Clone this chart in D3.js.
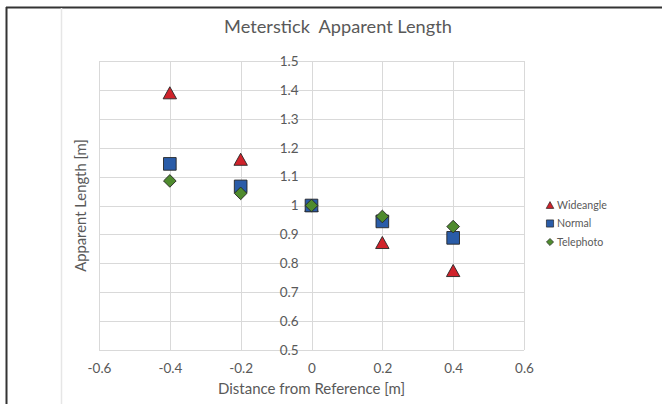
<!DOCTYPE html>
<html>
<head>
<meta charset="utf-8">
<script src="https://cdn.jsdelivr.net/npm/d3@7"></script>
<style>
  body { margin: 0; background: #fff; }
  text { font-family: Lato, sans-serif; fill: #595959; }
</style>
</head>
<body>
<div id="chart"></div>
<script>
// scatter of apparent meterstick length vs distance

const width = 662,
    height = 404,
    margin = ({ top: 61, right: 138, bottom: 54, left: 99 });

const distance = [-0.4, -0.2, 0, 0.2, 0.4];
const wideangle = [1.39, 1.16, 1.0, 0.872, 0.775];
const normal = [1.144, 1.066, 1.0, 0.945, 0.888];
const telephoto = [1.085, 1.042, 1.0, 0.962, 0.927];
const xTicks = [-0.6, -0.4, -0.2, 0, 0.2, 0.4, 0.6];
const yTicks = [0.5, 0.6, 0.7, 0.8, 0.9, 1, 1.1, 1.2, 1.3, 1.4, 1.5];

// diamond = square turned 45 degrees
const squareDiamond = {
    draw(context, size) {
        const r = Math.sqrt(size) / 2;
        context.moveTo(0, -r);
        context.lineTo(r, 0);
        context.lineTo(0, r);
        context.lineTo(-r, 0);
        context.closePath();
    }
};

// triangle centred on its box (excel style), size = box width squared
const boxTriangle = {
    draw(context, size) {
        const w = Math.sqrt(size) / 2, h = w * 0.9;
        context.moveTo(0, -h);
        context.lineTo(w, h);
        context.lineTo(-w, h);
        context.closePath();
    }
};

const series = [
    { name: "Wideangle", values: wideangle, shape: boxTriangle, size: 180, color: "#d0232b" },
    { name: "Normal", values: normal, shape: d3.symbolSquare, size: 160, color: "#2a5ca8" },
    { name: "Telephoto", values: telephoto, shape: squareDiamond, size: 160, color: "#4f8b2e" }
];

const fmt = d => String(+d.toFixed(1)); // plain hyphen minus like the original

let svg = d3.select("#chart")
    .append("svg")
    .attr("width", width)
    .attr("height", height);

// frame bits from the screenshot
svg.append("line").attr("x1", 6).attr("x2", width).attr("y1", 7.5).attr("y2", 7.5)
    .attr("stroke", "#333").attr("stroke-width", 2);
svg.append("line").attr("x1", 6.5).attr("x2", 6.5).attr("y1", 7).attr("y2", height)
    .attr("stroke", "#333").attr("stroke-width", 2);
svg.append("line").attr("x1", 61.5).attr("x2", 61.5).attr("y1", 8).attr("y2", height)
    .attr("stroke", "#e6e6e6").attr("stroke-width", 1.5);

let x = d3.scaleLinear()
    .domain([-0.6, 0.6])
    .range([margin.left, width - margin.right]);

let y = d3.scaleLinear()
    .domain([0.5, 1.5])
    .range([height - margin.bottom, margin.top]);

// gridlines
svg.append("g")
    .selectAll("line")
    .data(yTicks)
    .join("line")
    .attr("x1", x(-0.6)).attr("x2", x(0.6))
    .attr("y1", d => Math.round(y(d)) + 0.5).attr("y2", d => Math.round(y(d)) + 0.5)
    .attr("stroke", "#d9d9d9");

svg.append("g")
    .selectAll("line")
    .data(xTicks)
    .join("line")
    .attr("x1", d => Math.round(x(d)) + 0.5).attr("x2", d => Math.round(x(d)) + 0.5)
    .attr("y1", y(0.5)).attr("y2", y(1.5))
    .attr("stroke", "#d9d9d9");

// x tick labels
svg.append("g")
    .attr("transform", `translate(0,${y(0.5)})`)
    .call(d3.axisBottom(x).tickValues(xTicks).tickSize(0).tickPadding(13).tickFormat(fmt))
    .call(g => g.select(".domain").remove())
    .call(g => g.selectAll("text").style("font-size", "13.5px").attr("fill", "#595959"));

// y tick labels at x = 0
svg.append("g")
    .attr("transform", `translate(${x(0)},0)`)
    .call(d3.axisLeft(y).tickValues(yTicks).tickSize(0).tickPadding(13).tickFormat(fmt))
    .call(g => g.select(".domain").remove())
    .call(g => g.selectAll("text").style("font-size", "13.5px").attr("fill", "#595959"));

// points
for (let s of series) {
    svg.append("g")
        .selectAll("path")
        .data(distance.map((d, i) => ({ x: d, y: s.values[i] })))
        .join("path")
        .attr("transform", d => `translate(${x(d.x)},${y(d.y)})`)
        .attr("d", d3.symbol().type(s.shape).size(s.size))
        .attr("fill", s.color)
        .attr("stroke", "#262626")
        .attr("stroke-width", 0.9);
}

// title
svg.append("text")
    .attr("x", 338)
    .attr("y", 33)
    .attr("text-anchor", "middle")
    .attr("xml:space", "preserve")
    .style("font-size", "18.2px")
    .text("Meterstick  Apparent Length");

svg.append("text")
    .attr("text-anchor", "middle")
    .attr("x", x(0))
    .attr("y", 394)
    .style("font-size", "15px")
    .text("Distance from Reference [m]");

svg.append("text")
    .attr("text-anchor", "middle")
    .attr("transform", `translate(86,${y(1)}) rotate(-90)`)
    .style("font-size", "14.8px")
    .text("Apparent Length [m]");

// legend
let legend = svg.append("g")
    .selectAll("g")
    .data(series)
    .join("g")
    .attr("transform", (d, i) => `translate(550,${205 + i * 18.5})`);

legend.append("path")
    .attr("d", d => d3.symbol().type(d.shape).size(d.size * 0.32)())
    .attr("fill", d => d.color)
    .attr("stroke", "#262626")
    .attr("stroke-width", 0.7);

legend.append("text")
    .attr("x", 7)
    .attr("dy", "0.35em")
    .style("font-size", "10.6px")
    .text(d => d.name);
</script>
</body>
</html>
